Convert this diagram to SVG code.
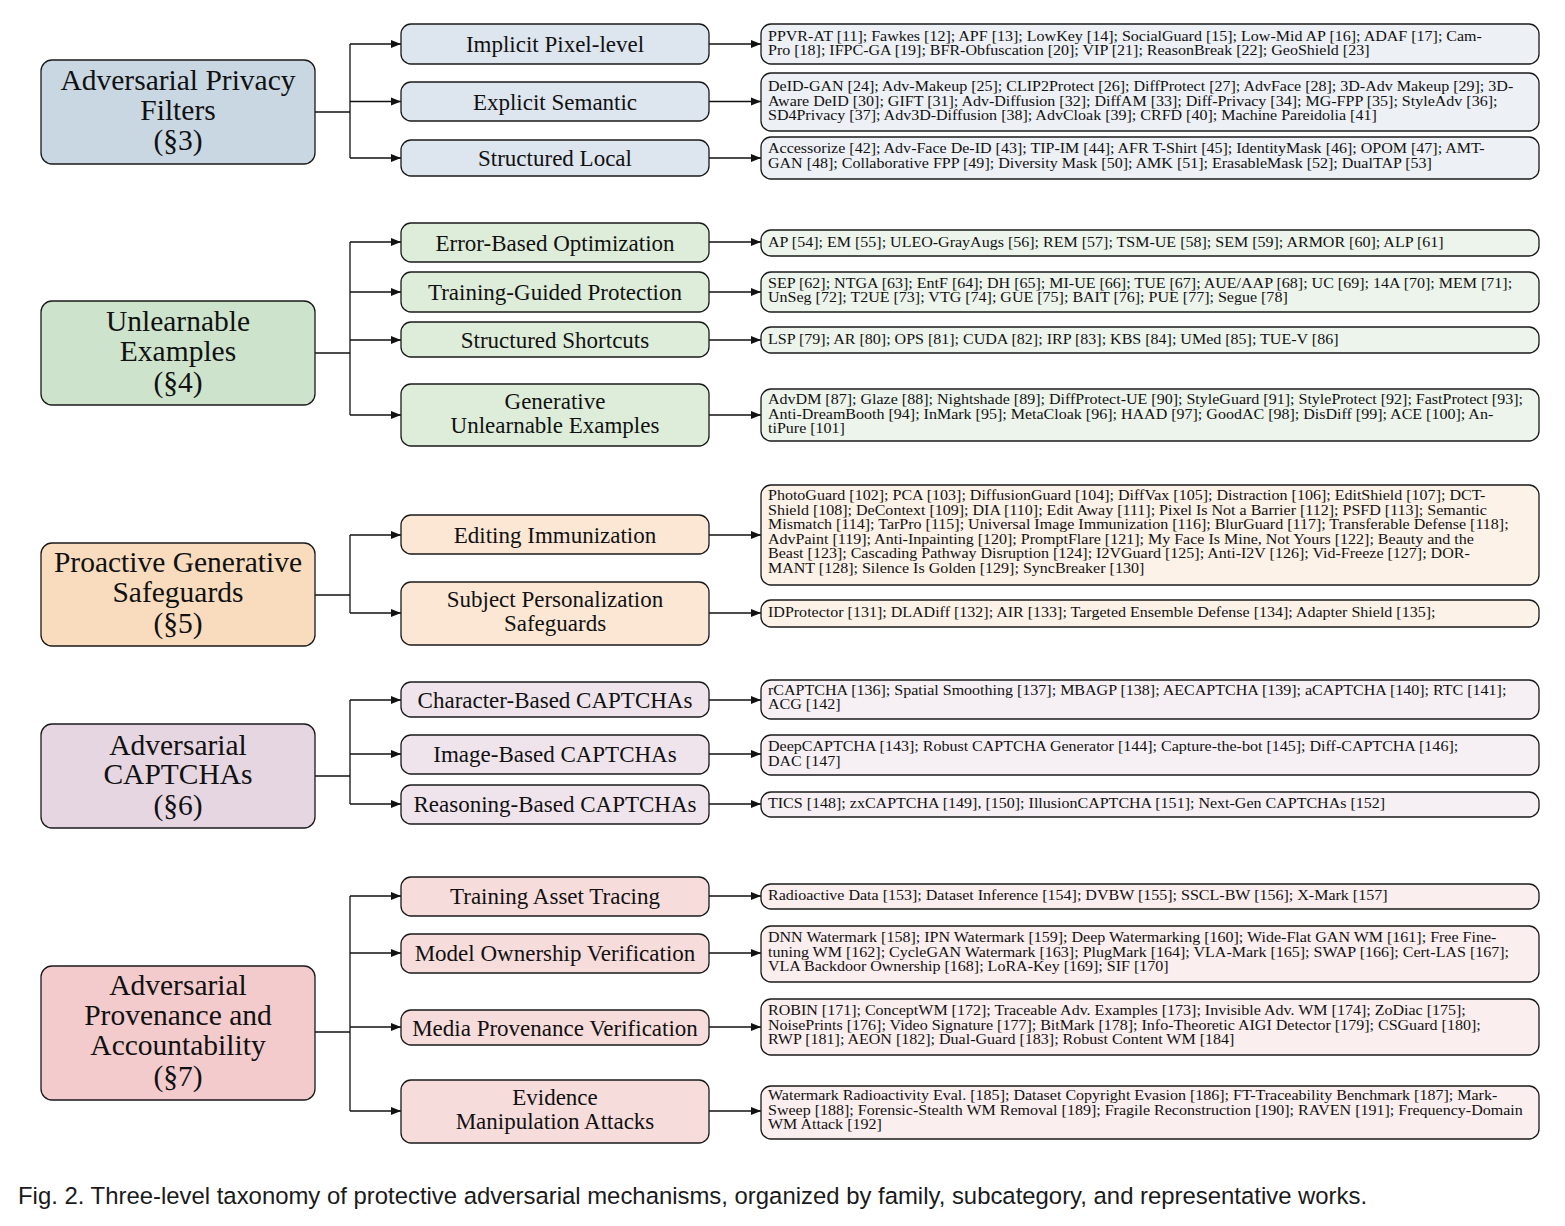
<svg xmlns="http://www.w3.org/2000/svg" width="1565" height="1226" viewBox="0 0 1565 1226">
<defs>
<marker id="arr" viewBox="0 0 10 10" refX="10" refY="5" markerWidth="10" markerHeight="10" markerUnits="userSpaceOnUse" orient="auto">
<path d="M0,1 L10,5 L0,9 z" fill="#111"/>
</marker>
<style>
rect{stroke:#1a1a1a;stroke-width:1.3}
.root text{font-family:"Liberation Serif",serif;font-size:29.5px;fill:#111;text-anchor:middle}
.mid text{font-family:"Liberation Serif",serif;font-size:23px;fill:#111;text-anchor:middle}
.leaf text{font-family:"Liberation Serif",serif;font-size:14.5px;fill:#111}
.c line,.c path{stroke:#111;stroke-width:1.3;fill:none}
.c .a{marker-end:url(#arr)}
.b1r{fill:#c9d7e3}.b1m{fill:#dde5ee}.b1l{fill:#edf0f4}
.b2r{fill:#cde3cb}.b2m{fill:#deedda}.b2l{fill:#edf4ec}
.b3r{fill:#f9dcbe}.b3m{fill:#fce7d5}.b3l{fill:#fdf2e8}
.b4r{fill:#e6d6e1}.b4m{fill:#efe4ec}.b4l{fill:#f6f0f4}
.b5r{fill:#f3cbcd}.b5m{fill:#f7dcdc}.b5l{fill:#fbeeee}
.cap{font-family:"Liberation Sans",Arial,sans-serif;font-size:23.9px;fill:#1a1a1a}
</style>
</defs>
<rect x="0" y="0" width="1565" height="1226" fill="#ffffff" style="stroke:none"/>

<g class="c" id="connectors">
<line x1="315" y1="112" x2="350" y2="112"/>
<line x1="350" y1="44" x2="350" y2="158"/>
<line class="a" x1="350" y1="44" x2="401" y2="44"/>
<line class="a" x1="350" y1="101.5" x2="401" y2="101.5"/>
<line class="a" x1="350" y1="158" x2="401" y2="158"/>
<line class="a" x1="709" y1="44" x2="761" y2="44"/>
<line class="a" x1="709" y1="101.5" x2="761" y2="101.5"/>
<line class="a" x1="709" y1="158" x2="761" y2="158"/>
<line x1="315" y1="353" x2="350" y2="353"/>
<line x1="350" y1="242" x2="350" y2="415"/>
<line class="a" x1="350" y1="242" x2="401" y2="242"/>
<line class="a" x1="350" y1="292" x2="401" y2="292"/>
<line class="a" x1="350" y1="340" x2="401" y2="340"/>
<line class="a" x1="350" y1="415" x2="401" y2="415"/>
<line class="a" x1="709" y1="242" x2="761" y2="242"/>
<line class="a" x1="709" y1="292" x2="761" y2="292"/>
<line class="a" x1="709" y1="340" x2="761" y2="340"/>
<line class="a" x1="709" y1="415" x2="761" y2="415"/>
<line x1="315" y1="595" x2="350" y2="595"/>
<line x1="350" y1="535" x2="350" y2="613"/>
<line class="a" x1="350" y1="535" x2="401" y2="535"/>
<line class="a" x1="350" y1="613" x2="401" y2="613"/>
<line class="a" x1="709" y1="535" x2="761" y2="535"/>
<line class="a" x1="709" y1="613" x2="761" y2="613"/>
<line x1="315" y1="776" x2="350" y2="776"/>
<line x1="350" y1="700" x2="350" y2="804"/>
<line class="a" x1="350" y1="700" x2="401" y2="700"/>
<line class="a" x1="350" y1="754" x2="401" y2="754"/>
<line class="a" x1="350" y1="804" x2="401" y2="804"/>
<line class="a" x1="709" y1="700" x2="761" y2="700"/>
<line class="a" x1="709" y1="754" x2="761" y2="754"/>
<line class="a" x1="709" y1="804" x2="761" y2="804"/>
<line x1="315" y1="1032" x2="350" y2="1032"/>
<line x1="350" y1="896" x2="350" y2="1111"/>
<line class="a" x1="350" y1="896" x2="401" y2="896"/>
<line class="a" x1="350" y1="953" x2="401" y2="953"/>
<line class="a" x1="350" y1="1027" x2="401" y2="1027"/>
<line class="a" x1="350" y1="1111" x2="401" y2="1111"/>
<line class="a" x1="709" y1="896" x2="761" y2="896"/>
<line class="a" x1="709" y1="953" x2="761" y2="953"/>
<line class="a" x1="709" y1="1027" x2="761" y2="1027"/>
<line class="a" x1="709" y1="1111" x2="761" y2="1111"/>
</g>

<g class="root" id="n-apf">
<rect class="b1r" x="41" y="60" width="274" height="104" rx="11"/>
<text><tspan x="178" y="89.5">Adversarial Privacy</tspan><tspan x="178" y="119.5">Filters</tspan><tspan x="178" y="149.5">(§3)</tspan></text>
</g>
<g class="mid" id="n-implicit">
<rect class="b1m" x="401" y="24" width="308" height="40" rx="10"/>
<text x="555" y="51.5">Implicit Pixel-level</text>
</g>
<g class="mid" id="n-explicit">
<rect class="b1m" x="401" y="82" width="308" height="39" rx="10"/>
<text x="555" y="109.5">Explicit Semantic</text>
</g>
<g class="mid" id="n-structlocal">
<rect class="b1m" x="401" y="140" width="308" height="36" rx="10"/>
<text x="555" y="165.5">Structured Local</text>
</g>
<g class="leaf" id="l-implicit">
<rect class="b1l" x="761" y="24" width="778" height="40" rx="10"/>
<text transform="translate(768 0) scale(1.105 1)"><tspan x="0" y="41">PPVR-AT [11]; Fawkes [12]; APF [13]; LowKey [14]; SocialGuard [15]; Low-Mid AP [16]; ADAF [17]; Cam-</tspan><tspan x="0" y="55.5">Pro [18]; IFPC-GA [19]; BFR-Obfuscation [20]; VIP [21]; ReasonBreak [22]; GeoShield [23]</tspan></text>
</g>
<g class="leaf" id="l-explicit">
<rect class="b1l" x="761" y="73" width="778" height="58" rx="10"/>
<text transform="translate(768 0) scale(1.105 1)"><tspan x="0" y="91.5">DeID-GAN [24]; Adv-Makeup [25]; CLIP2Protect [26]; DiffProtect [27]; AdvFace [28]; 3D-Adv Makeup [29]; 3D-</tspan><tspan x="0" y="106">Aware DeID [30]; GIFT [31]; Adv-Diffusion [32]; DiffAM [33]; Diff-Privacy [34]; MG-FPP [35]; StyleAdv [36];</tspan><tspan x="0" y="120.5">SD4Privacy [37]; Adv3D-Diffusion [38]; AdvCloak [39]; CRFD [40]; Machine Pareidolia [41]</tspan></text>
</g>
<g class="leaf" id="l-structlocal">
<rect class="b1l" x="761" y="137" width="778" height="42" rx="10"/>
<text transform="translate(768 0) scale(1.105 1)"><tspan x="0" y="153.5">Accessorize [42]; Adv-Face De-ID [43]; TIP-IM [44]; AFR T-Shirt [45]; IdentityMask [46]; OPOM [47]; AMT-</tspan><tspan x="0" y="168">GAN [48]; Collaborative FPP [49]; Diversity Mask [50]; AMK [51]; ErasableMask [52]; DualTAP [53]</tspan></text>
</g>

<g class="root" id="n-ue">
<rect class="b2r" x="41" y="301" width="274" height="104" rx="11"/>
<text><tspan x="178" y="330.5">Unlearnable</tspan><tspan x="178" y="360.5">Examples</tspan><tspan x="178" y="391.5">(§4)</tspan></text>
</g>
<g class="mid" id="n-errorbased">
<rect class="b2m" x="401" y="223" width="308" height="39" rx="10"/>
<text x="555" y="250.5">Error-Based Optimization</text>
</g>
<g class="mid" id="n-trainguided">
<rect class="b2m" x="401" y="272" width="308" height="40" rx="10"/>
<text x="555" y="299.5">Training-Guided Protection</text>
</g>
<g class="mid" id="n-shortcuts">
<rect class="b2m" x="401" y="322" width="308" height="35" rx="10"/>
<text x="555" y="347.5">Structured Shortcuts</text>
</g>
<g class="mid" id="n-genue">
<rect class="b2m" x="401" y="384" width="308" height="62" rx="10"/>
<text><tspan x="555" y="408.5">Generative</tspan><tspan x="555" y="432.5">Unlearnable Examples</tspan></text>
</g>
<g class="leaf" id="l-errorbased">
<rect class="b2l" x="761" y="230" width="778" height="26" rx="10"/>
<text transform="translate(768 0) scale(1.105 1)" x="0" y="247">AP [54]; EM [55]; ULEO-GrayAugs [56]; REM [57]; TSM-UE [58]; SEM [59]; ARMOR [60]; ALP [61]</text>
</g>
<g class="leaf" id="l-trainguided">
<rect class="b2l" x="761" y="272" width="778" height="40" rx="10"/>
<text transform="translate(768 0) scale(1.105 1)"><tspan x="0" y="288">SEP [62]; NTGA [63]; EntF [64]; DH [65]; MI-UE [66]; TUE [67]; AUE/AAP [68]; UC [69]; 14A [70]; MEM [71];</tspan><tspan x="0" y="302.5">UnSeg [72]; T2UE [73]; VTG [74]; GUE [75]; BAIT [76]; PUE [77]; Segue [78]</tspan></text>
</g>
<g class="leaf" id="l-shortcuts">
<rect class="b2l" x="761" y="327" width="778" height="26" rx="10"/>
<text transform="translate(768 0) scale(1.105 1)" x="0" y="344">LSP [79]; AR [80]; OPS [81]; CUDA [82]; IRP [83]; KBS [84]; UMed [85]; TUE-V [86]</text>
</g>
<g class="leaf" id="l-genue">
<rect class="b2l" x="761" y="389" width="778" height="52" rx="10"/>
<text transform="translate(768 0) scale(1.105 1)"><tspan x="0" y="404.5">AdvDM [87]; Glaze [88]; Nightshade [89]; DiffProtect-UE [90]; StyleGuard [91]; StyleProtect [92]; FastProtect [93];</tspan><tspan x="0" y="419">Anti-DreamBooth [94]; InMark [95]; MetaCloak [96]; HAAD [97]; GoodAC [98]; DisDiff [99]; ACE [100]; An-</tspan><tspan x="0" y="433.5">tiPure [101]</tspan></text>
</g>

<g class="root" id="n-pgs">
<rect class="b3r" x="41" y="543" width="274" height="103" rx="11"/>
<text><tspan x="178" y="571.5">Proactive Generative</tspan><tspan x="178" y="601.5">Safeguards</tspan><tspan x="178" y="632.5">(§5)</tspan></text>
</g>
<g class="mid" id="n-editing">
<rect class="b3m" x="401" y="515" width="308" height="39" rx="10"/>
<text x="555" y="542.5">Editing Immunization</text>
</g>
<g class="mid" id="n-subject">
<rect class="b3m" x="401" y="582" width="308" height="63" rx="10"/>
<text><tspan x="555" y="606.5">Subject Personalization</tspan><tspan x="555" y="630.5">Safeguards</tspan></text>
</g>
<g class="leaf" id="l-editing">
<rect class="b3l" x="761" y="485" width="778" height="100" rx="10"/>
<text transform="translate(768 0) scale(1.105 1)"><tspan x="0" y="500.5">PhotoGuard [102]; PCA [103]; DiffusionGuard [104]; DiffVax [105]; Distraction [106]; EditShield [107]; DCT-</tspan><tspan x="0" y="515">Shield [108]; DeContext [109]; DIA [110]; Edit Away [111]; Pixel Is Not a Barrier [112]; PSFD [113]; Semantic</tspan><tspan x="0" y="529.5">Mismatch [114]; TarPro [115]; Universal Image Immunization [116]; BlurGuard [117]; Transferable Defense [118];</tspan><tspan x="0" y="544">AdvPaint [119]; Anti-Inpainting [120]; PromptFlare [121]; My Face Is Mine, Not Yours [122]; Beauty and the</tspan><tspan x="0" y="558.5">Beast [123]; Cascading Pathway Disruption [124]; I2VGuard [125]; Anti-I2V [126]; Vid-Freeze [127]; DOR-</tspan><tspan x="0" y="573">MANT [128]; Silence Is Golden [129]; SyncBreaker [130]</tspan></text>
</g>
<g class="leaf" id="l-subject">
<rect class="b3l" x="761" y="600" width="778" height="27" rx="10"/>
<text transform="translate(768 0) scale(1.105 1)" x="0" y="617.5">IDProtector [131]; DLADiff [132]; AIR [133]; Targeted Ensemble Defense [134]; Adapter Shield [135];</text>
</g>

<g class="root" id="n-captcha">
<rect class="b4r" x="41" y="724" width="274" height="104" rx="11"/>
<text><tspan x="178" y="754.5">Adversarial</tspan><tspan x="178" y="783.5">CAPTCHAs</tspan><tspan x="178" y="814.5">(§6)</tspan></text>
</g>
<g class="mid" id="n-charbased">
<rect class="b4m" x="401" y="682" width="308" height="35" rx="10"/>
<text x="555" y="707.5">Character-Based CAPTCHAs</text>
</g>
<g class="mid" id="n-imgbased">
<rect class="b4m" x="401" y="735" width="308" height="39" rx="10"/>
<text x="555" y="761.5">Image-Based CAPTCHAs</text>
</g>
<g class="mid" id="n-reasonbased">
<rect class="b4m" x="401" y="785" width="308" height="39" rx="10"/>
<text x="555" y="811.5">Reasoning-Based CAPTCHAs</text>
</g>
<g class="leaf" id="l-charbased">
<rect class="b4l" x="761" y="680" width="778" height="39" rx="10"/>
<text transform="translate(768 0) scale(1.105 1)"><tspan x="0" y="695">rCAPTCHA [136]; Spatial Smoothing [137]; MBAGP [138]; AECAPTCHA [139]; aCAPTCHA [140]; RTC [141];</tspan><tspan x="0" y="709.5">ACG [142]</tspan></text>
</g>
<g class="leaf" id="l-imgbased">
<rect class="b4l" x="761" y="735" width="778" height="40" rx="10"/>
<text transform="translate(768 0) scale(1.105 1)"><tspan x="0" y="751.5">DeepCAPTCHA [143]; Robust CAPTCHA Generator [144]; Capture-the-bot [145]; Diff-CAPTCHA [146];</tspan><tspan x="0" y="766">DAC [147]</tspan></text>
</g>
<g class="leaf" id="l-reasonbased">
<rect class="b4l" x="761" y="792" width="778" height="25" rx="10"/>
<text transform="translate(768 0) scale(1.105 1)" x="0" y="808.5">TICS [148]; zxCAPTCHA [149], [150]; IllusionCAPTCHA [151]; Next-Gen CAPTCHAs [152]</text>
</g>

<g class="root" id="n-prov">
<rect class="b5r" x="41" y="966" width="274" height="134" rx="11"/>
<text><tspan x="178" y="994.5">Adversarial</tspan><tspan x="178" y="1024.5">Provenance and</tspan><tspan x="178" y="1054.5">Accountability</tspan><tspan x="178" y="1085.5">(§7)</tspan></text>
</g>
<g class="mid" id="n-trainasset">
<rect class="b5m" x="401" y="877" width="308" height="39" rx="10"/>
<text x="555" y="903.5">Training Asset Tracing</text>
</g>
<g class="mid" id="n-modelown">
<rect class="b5m" x="401" y="934" width="308" height="39" rx="10"/>
<text x="555" y="960.5">Model Ownership Verification</text>
</g>
<g class="mid" id="n-mediaprov">
<rect class="b5m" x="401" y="1010" width="308" height="35" rx="10"/>
<text x="555" y="1035.5">Media Provenance Verification</text>
</g>
<g class="mid" id="n-evidence">
<rect class="b5m" x="401" y="1080" width="308" height="63" rx="10"/>
<text><tspan x="555" y="1104.5">Evidence</tspan><tspan x="555" y="1128.5">Manipulation Attacks</tspan></text>
</g>
<g class="leaf" id="l-trainasset">
<rect class="b5l" x="761" y="884" width="778" height="25" rx="10"/>
<text transform="translate(768 0) scale(1.105 1)" x="0" y="900.5">Radioactive Data [153]; Dataset Inference [154]; DVBW [155]; SSCL-BW [156]; X-Mark [157]</text>
</g>
<g class="leaf" id="l-modelown">
<rect class="b5l" x="761" y="926" width="778" height="56" rx="10"/>
<text transform="translate(768 0) scale(1.105 1)"><tspan x="0" y="942.5">DNN Watermark [158]; IPN Watermark [159]; Deep Watermarking [160]; Wide-Flat GAN WM [161]; Free Fine-</tspan><tspan x="0" y="957">tuning WM [162]; CycleGAN Watermark [163]; PlugMark [164]; VLA-Mark [165]; SWAP [166]; Cert-LAS [167];</tspan><tspan x="0" y="971.5">VLA Backdoor Ownership [168]; LoRA-Key [169]; SIF [170]</tspan></text>
</g>
<g class="leaf" id="l-mediaprov">
<rect class="b5l" x="761" y="999" width="778" height="56" rx="10"/>
<text transform="translate(768 0) scale(1.105 1)"><tspan x="0" y="1015.5">ROBIN [171]; ConceptWM [172]; Traceable Adv. Examples [173]; Invisible Adv. WM [174]; ZoDiac [175];</tspan><tspan x="0" y="1030">NoisePrints [176]; Video Signature [177]; BitMark [178]; Info-Theoretic AIGI Detector [179]; CSGuard [180];</tspan><tspan x="0" y="1044.5">RWP [181]; AEON [182]; Dual-Guard [183]; Robust Content WM [184]</tspan></text>
</g>
<g class="leaf" id="l-evidence">
<rect class="b5l" x="761" y="1086" width="778" height="53" rx="10"/>
<text transform="translate(768 0) scale(1.105 1)"><tspan x="0" y="1100.5">Watermark Radioactivity Eval. [185]; Dataset Copyright Evasion [186]; FT-Traceability Benchmark [187]; Mark-</tspan><tspan x="0" y="1115">Sweep [188]; Forensic-Stealth WM Removal [189]; Fragile Reconstruction [190]; RAVEN [191]; Frequency-Domain</tspan><tspan x="0" y="1129.5">WM Attack [192]</tspan></text>
</g>

<text class="cap" x="18" y="1204">Fig. 2. Three-level taxonomy of protective adversarial mechanisms, organized by family, subcategory, and representative works.</text>
</svg>
